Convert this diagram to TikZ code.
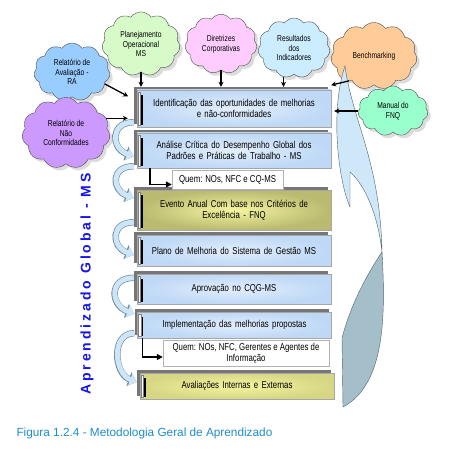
\documentclass[tikz,border=0pt]{standalone}
\usepackage{fontspec}
\setmainfont{Liberation Sans}
\newfontfamily\narrowfont{Liberation Sans}[FakeStretch=0.78]
\newfontfamily\spacedfont{Liberation Sans}[LetterSpace=21]
\usepackage{tikz}
\usetikzlibrary{arrows.meta,shapes.symbols,shadows}
\usepackage{xcolor}
\definecolor{msblue}{RGB}{190,216,246}
\definecolor{mslight}{RGB}{226,238,252}
\definecolor{msolive}{RGB}{186,186,112}
\definecolor{msyellow}{RGB}{244,244,160}
\definecolor{mssand}{RGB}{214,214,132}
\definecolor{msgray}{RGB}{118,118,118}
\definecolor{msarrow}{RGB}{204,230,248}
\definecolor{msedge}{RGB}{112,140,156}
\definecolor{msfront}{RGB}{206,232,250}
\definecolor{msback}{RGB}{165,191,202}
\definecolor{msline}{RGB}{80,96,106}
\definecolor{msvivid}{RGB}{20,20,235}
\definecolor{mscaption}{RGB}{30,140,205}
\definecolor{cgreen}{RGB}{214,250,200}
\definecolor{cpink}{RGB}{255,204,255}
\definecolor{csky}{RGB}{204,236,255}
\definecolor{corange}{RGB}{255,204,153}
\definecolor{cmint}{RGB}{153,255,204}
\definecolor{cblue}{RGB}{153,204,255}
\definecolor{cviolet}{RGB}{204,153,255}
\tikzstyle{stage} = [rectangle, draw=gray!70, minimum width=194pt, text width=186pt, align=center, inner color=mslight, outer color=msblue, general shadow={fill=msgray, shadow xshift=-3pt, shadow yshift=3pt}, font=\narrowfont\fontsize{10}{11}\selectfont, path picture={\draw[gray, fill=white] ([xshift=1pt,yshift=-2pt]path picture bounding box.north west) rectangle ([xshift=3.5pt,yshift=2pt]path picture bounding box.south west); \draw[black, line width=1.3pt] ([xshift=5pt,yshift=-5pt]path picture bounding box.north west) -- ([xshift=5pt,yshift=2pt]path picture bounding box.south west);}]
\tikzstyle{who} = [rectangle, draw=gray!60, fill=white, align=center, font=\narrowfont\fontsize{10}{11}\selectfont]
\tikzstyle{idea} = [cloud, cloud puffs=11, cloud puff arc=110, draw=gray!60!black, align=center, inner sep=0pt, drop shadow={fill=gray!55, shadow xshift=3pt, shadow yshift=-3pt}, font=\narrowfont\fontsize{8.6}{9.6}\selectfont]
\tikzstyle{feed} = [line width=1.3pt, -{Stealth[length=5pt,width=5pt]}, shorten >=3pt]
\tikzstyle{turn} = [line width=5pt, draw=msarrow, -{Triangle[width=12pt,length=7pt]}, preaction={draw=msedge, line width=6.4pt, -{Triangle[width=14pt,length=8.4pt]}}]
\tikzstyle{who arrow} = [line width=1.6pt, -{Triangle[width=6pt,length=6pt]}]

\begin{document}
\begin{tikzpicture}[x=1pt, y=-1pt]
\useasboundingbox (0,0) rectangle (462,470);

\node (planej) [idea, fill=cgreen, minimum width=78pt, minimum height=58pt] at (141,44) {Planejamento\\ Operacional\\ MS};
\node (diretr) [idea, fill=cpink, minimum width=72pt, minimum height=58pt] at (221,44) {Diretrizes\\ Corporativas};
\node (result) [idea, fill=csky, minimum width=72pt, minimum height=60pt] at (294,48) {Resultados\\ dos\\ Indicadores};
\node (bench) [idea, fill=corange, minimum width=86pt, minimum height=56pt] at (374,56) {Benchmarking};
\node (manual) [idea, fill=cmint, minimum width=70pt, minimum height=50pt] at (393,111) {Manual do\\ FNQ};
\node (relav) [idea, fill=cblue, minimum width=76pt, minimum height=58pt] at (72,72) {Relatório de\\ Avaliação -\\ RA};
\node (relnc) [idea, fill=cviolet, minimum width=88pt, minimum height=64pt] at (66,133) {Relatório de\\ Não\\ Conformidades};

\filldraw[fill=msback, draw=msline] (342,338) .. controls (352,300) and (370,270) .. (382,252) .. controls (386,320) and (384,385) .. (343,407) -- cycle;
\filldraw[fill=msfront, draw=msline] (345,66) .. controls (352,120) and (380,160) .. (382,252) .. controls (378,215) and (365,185) .. (350,172) -- (350,207) .. controls (338,180) and (330,110) .. (345,66) -- cycle;

\node (box1) [stage, minimum height=37pt] at (234,108.5) {Identificação das oportunidades de melhorias\\ e não-conformidades};
\node (box2) [stage, minimum height=35pt] at (234,150.5) {Análise Crítica do Desempenho Global dos\\ Padrões e Práticas de Trabalho - MS};
\node (box3) [stage, minimum height=40pt, inner color=msyellow, outer color=msolive] at (234,210) {Evento Anual Com base nos Critérios de\\ Excelência - FNQ};
\node (box4) [stage, minimum height=31pt] at (234,250.5) {Plano de Melhoria do Sistema de Gestão MS};
\node (box5) [stage, minimum height=30pt] at (234,289) {Aprovação no CQG-MS};
\node (box6) [stage, minimum height=26pt] at (234.5,325) {Implementação das melhorias propostas};
\node (box7) [stage, minimum height=26pt, inner color=msyellow, outer color=mssand] at (237,386) {Avaliações Internas e Externas};

\node (who1) [who, minimum width=111pt, minimum height=19pt] at (227.5,179.5) {Quem: NOs, NFC e CQ-MS};
\node (who2) [who, minimum width=166pt, minimum height=26pt, inner sep=1pt] at (246,353) {Quem: NOs, NFC, Gerentes e Agentes de\\ Informação};

\draw[who arrow] ([xshift=13pt]box2.south west) |- ([yshift=-5pt]who1.west);
\draw[who arrow] ([xshift=5pt]box6.south west) |- ([yshift=-4pt]who2.west);

\draw[turn] ([xshift=-3pt,yshift=5pt]box1.south west) to[out=180,in=160,looseness=1.8] ([xshift=-3pt,yshift=-6pt]box2.west);
\draw[turn] ([xshift=-3pt,yshift=2pt]box2.south west) to[out=180,in=160,looseness=1.9] ([xshift=-3pt,yshift=12pt]box3.west);
\draw[turn] ([xshift=-3pt,yshift=8pt]box3.south west) to[out=180,in=160,looseness=1.85] ([xshift=-3pt,yshift=-4.5pt]box4.west);
\draw[turn] ([xshift=-3pt,yshift=-4pt]box5.north west) to[out=180,in=160,looseness=1.8] ([xshift=-3pt,yshift=-2pt]box6.north west);
\draw[turn] ([xshift=-3pt,yshift=5pt]box6.south west) to[out=180,in=160,looseness=1.25] ([xshift=-3pt,yshift=4pt]box7.west);

\draw[feed] (planej.south) -- (planej.south |- box1.north);
\draw[feed] (diretr.south) -- (diretr.south |- box1.north);
\draw[feed] (result.-110) -- (result.-110 |- box1.north);
\draw[feed] (bench.225) -- ([xshift=-3pt,yshift=4pt]box1.north east);
\draw[feed] (manual.west) -- (manual.west -| box1.east);
\draw[feed] (relav.-20) -- ([xshift=-6pt,yshift=-8pt]box1.north west);
\draw[feed] (relnc.20) -- ([xshift=-6pt]relnc.20 -| box1.west);

\node (theme) [rotate=90, text=msvivid, font=\spacedfont\bfseries\fontsize{14}{14}\selectfont] at (87,284) {Aprendizado Global - MS};
\node (caption) [anchor=west, text=mscaption, font=\fontsize{11.8}{13}\selectfont] at (13,433) {Figura 1.2.4 - Metodologia Geral de Aprendizado};
\end{tikzpicture}
\end{document}
